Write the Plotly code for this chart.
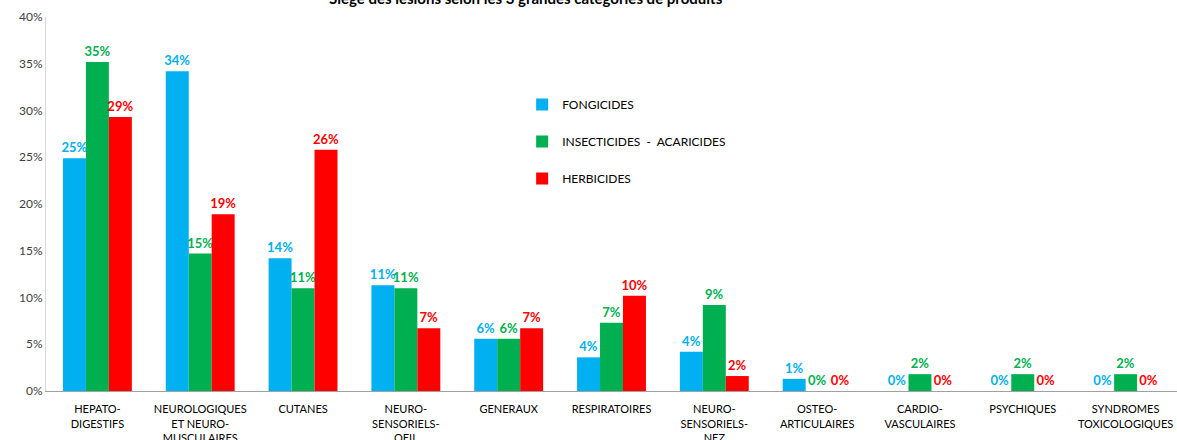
import plotly.graph_objects as go

categories = [
    "HEPATO-<br>DIGESTIFS",
    "NEUROLOGIQUES<br>ET NEURO-<br>MUSCULAIRES",
    "CUTANES",
    "NEURO-<br>SENSORIELS-<br>OEIL",
    "GENERAUX",
    "RESPIRATOIRES",
    "NEURO-<br>SENSORIELS-<br>NEZ",
    "OSTEO-<br>ARTICULAIRES",
    "CARDIO-<br>VASCULAIRES",
    "PSYCHIQUES",
    "SYNDROMES<br>TOXICOLOGIQUES",
]

fongicides = [24.9, 34.2, 14.2, 11.3, 5.6, 3.6, 4.2, 1.3, 0, 0, 0]
insecticides = [35.2, 14.7, 11.0, 11.0, 5.6, 7.3, 9.2, 0, 1.8, 1.8, 1.8]
herbicides = [29.3, 18.9, 25.8, 6.7, 6.7, 10.2, 1.6, 0, 0, 0, 0]

series = [
    ("FONGICIDES", fongicides, "#00B0F0"),
    ("INSECTICIDES  -  ACARICIDES", insecticides, "#00B050"),
    ("HERBICIDES", herbicides, "#FF0000"),
]

FONT = "Comic Sans MS, Lato, DejaVu Sans, sans-serif"


def main():
    fig = go.Figure()
    for name, vals, color in series:
        fig.add_trace(
            go.Bar(
                x=categories,
                y=vals,
                name=name,
                legendgroup=name,
                marker_color=color,
                marker_line_width=0,
                texttemplate="<b>%{y:.0f}%</b>",
                textposition="outside",
                constraintext="none",
                textfont=dict(color=color, size=13, family=FONT),
                cliponaxis=False,
            )
        )

    # title sits partly above the page, as in the original
    fig.add_annotation(
        text="<b>Siège des lésions selon les 3 grandes catégories de produits</b>",
        xref="paper", yref="paper",
        x=0.424, y=1.05,
        xanchor="center", yanchor="middle",
        showarrow=False,
        font=dict(size=15, color="black", family=FONT),
    )

    fig.update_layout(
        width=1177,
        height=440,
        barmode="group",
        bargap=0.33,
        bargroupgap=0,
        plot_bgcolor="white",
        paper_bgcolor="white",
        margin=dict(l=46, r=0, t=17, b=49),
        font=dict(family=FONT, color="black"),
        showlegend=True,
        legend=dict(
            x=0.421, y=0.805,
            xanchor="left", yanchor="top",
            bgcolor="rgba(0,0,0,0)",
            tracegroupgap=18,
            font=dict(size=12, family=FONT, color="black"),
            itemwidth=30,
        ),
        xaxis=dict(
            automargin=False,
            showline=True,
            linecolor="#a0a0a0",
            linewidth=1,
            ticks="",
            ticklabelstandoff=8,
            tickfont=dict(size=11, family=FONT, color="black"),
            tickangle=0,
        ),
        yaxis=dict(
            automargin=False,
            range=[0, 40],
            dtick=5,
            ticksuffix="%",
            showgrid=False,
            zeroline=False,
            showline=True,
            linecolor="#d9d9d9",
            linewidth=1,
            tickfont=dict(size=12, family=FONT, color="#404040"),
        ),
    )

    fig.write_html(
        "out.html",
        config={"displayModeBar": False},
        post_script="document.body.style.margin='0';",
    )


if __name__ == "__main__":
    main()
